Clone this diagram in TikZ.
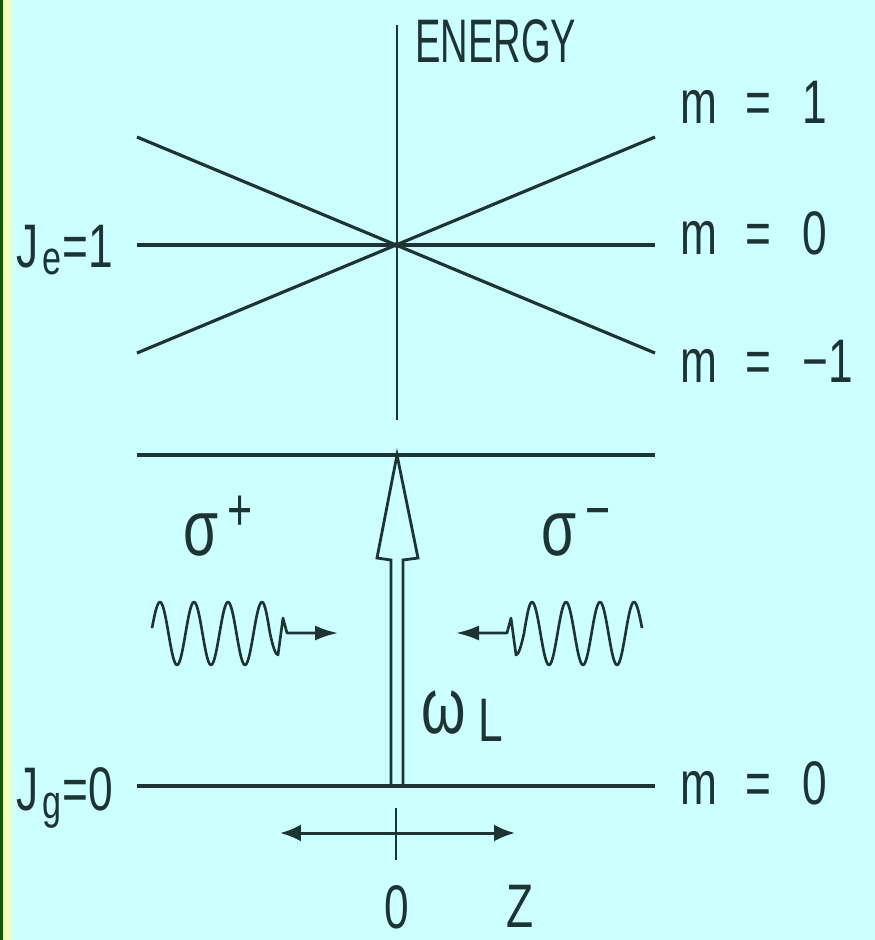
\documentclass[tikz,border=0pt]{standalone}
\usepackage{fontspec}
\newfontfamily\hfont{Liberation Sans}[FakeStretch=0.72]
\newfontfamily\efont{Liberation Sans}[FakeStretch=0.62]
\usepackage{tikz}
\usetikzlibrary{
  arrows.meta,
  calc,
}
\definecolor{bgcyan}{HTML}{CCFFFF}
\definecolor{ink}{HTML}{1E3434}
\definecolor{edgegreen}{HTML}{0A5C0A}
\definecolor{edgeyellow}{HTML}{F6FFB4}

\begin{document}
\begin{tikzpicture}[
  x=0.02cm,
  y=-0.02cm,
  level/.style={
    draw=ink,
    line width=1.8pt,
  },
  axisline/.style={
    draw=ink,
    line width=1.6pt,
  },
  wave/.style={
    draw=ink,
    line width=1.5pt,
    line join=round,
    -{Latex[length=4.6mm, width=3mm]},
  },
  zarr/.style={
    draw=ink,
    line width=1.7pt,
    {Latex[length=4.2mm, width=3.4mm]}-{Latex[length=4.2mm, width=3.4mm]},
  },
  lbl/.style={
    font=\hfont\fontsize{35}{40}\selectfont,
    text=ink,
    inner sep=0pt,
    anchor=base west,
  },
  greek/.style={
    font=\hfont\fontsize{45}{50}\selectfont,
    text=ink,
    inner sep=0pt,
    anchor=base west,
  },
]

% =============================================================================
% Background and left edge
% =============================================================================
\useasboundingbox (0,0) rectangle (875,940);
\fill[bgcyan] (0,0) rectangle (875,940);
\fill[edgegreen] (0,0) rectangle (3,940);
\fill[edgeyellow] (3,0) rectangle (8,940);
\shade[left color=edgeyellow, right color=bgcyan] (8,0) rectangle (14,940);

% =============================================================================
% Energy axis and excited level J_e = 1
% =============================================================================
\coordinate (axtop) at (397,25);
\coordinate (axbot) at (397,420);
\coordinate (cross) at (397,245);

\draw[axisline] (axtop) -- (axbot);
\node[font=\efont\fontsize{35}{40}\selectfont, text=ink, inner sep=0pt,
      anchor=base west] (energy) at (415,62) {ENERGY};

\draw[level] (137,137) -- (655,353);
\draw[level] (137,353) -- (655,137);
\draw[level] (137,245) -- (655,245);
\fill[ink] (cross) circle (1.8pt);

\node[lbl] (je) at (16,267)
  {J\hspace{2pt}\raisebox{-4.5pt}{\fontsize{27}{30}\selectfont e}\hspace{1pt}=1};
\node[lbl] (mup) at (680,123) {m\hspace{16pt}=\hspace{18pt}1};
\node[lbl] (mzero) at (680,254) {m\hspace{16pt}=\hspace{18pt}0};
\node[lbl] (mdown) at (680,382) {m\hspace{16pt}=\hspace{18pt}−1};

% =============================================================================
% Transition: upper level, ground level J_g = 0, laser arrow
% =============================================================================
\coordinate (exc) at (397,455);
\coordinate (gnd) at (397,786);

\draw[level] (137,455) -- (655,455);
\draw[level] (137,786) -- (655,786);

\draw[axisline, line join=miter]
  ($(gnd)+(-6,0)$) -- ($(exc)+(-6,105)$) -- ($(exc)+(-20,103)$)
  -- (exc) -- ($(exc)+(21,103)$) -- ($(exc)+(6,105)$) -- ($(gnd)+(6,0)$);

\node[greek] (omega) at (421,733)
  {ω\hspace{7pt}\raisebox{-5pt}{\fontsize{35}{38}\selectfont L}};
\node[lbl] (jg) at (16,810)
  {J\hspace{2pt}\raisebox{-5pt}{\fontsize{27}{30}\selectfont g}\hspace{1pt}=0};
\node[lbl] (mground) at (680,804) {m\hspace{16pt}=\hspace{18pt}0};

% =============================================================================
% Counter-propagating beams
% =============================================================================
\node[greek] (sigplus) at (183,555)
  {σ\hspace{5pt}\raisebox{14pt}{\fontsize{34}{36}\selectfont +}};
\node[greek] (sigminus) at (541,555)
  {σ\hspace{5pt}\raisebox{14pt}{\fontsize{34}{36}\selectfont −}};

% beam from the left
\draw[wave]
  (152,628) sin (160,602)
  cos ++(8.5,31.5) sin ++(8.5,31.5) cos ++(8.5,-31.5) sin ++(8.5,-31.5)
  cos ++(8.5,31.5) sin ++(8.5,31.5) cos ++(8.5,-31.5) sin ++(8.5,-31.5)
  cos ++(8.5,31.5) sin ++(8.5,31.5) cos ++(8.5,-31.5) sin ++(8.5,-31.5)
  cos ++(8,31.5) sin ++(8,21.5)
  -- ++(5,-37) -- ++(4,15) -- (338,633);

% beam from the right
\draw[wave]
  (642,628) sin (634,602)
  cos ++(-8.5,31.5) sin ++(-8.5,31.5) cos ++(-8.5,-31.5) sin ++(-8.5,-31.5)
  cos ++(-8.5,31.5) sin ++(-8.5,31.5) cos ++(-8.5,-31.5) sin ++(-8.5,-31.5)
  cos ++(-8.5,31.5) sin ++(-8.5,31.5) cos ++(-8.5,-31.5) sin ++(-8.5,-31.5)
  cos ++(-8,31.5) sin ++(-8,21.5)
  -- ++(-5,-37) -- ++(-4,15) -- (456,633);

% =============================================================================
% z axis
% =============================================================================
\coordinate (zleft) at (280,833);
\coordinate (zright) at (515,833);

\draw[zarr] (zleft) -- (zright);
\draw[axisline] (396,808) -- (396,860);

\node[lbl, anchor=base] (zero) at (397,928) {0};
\node[lbl, anchor=base] (zlab) at (520,927) {Z};

\end{tikzpicture}
\end{document}
